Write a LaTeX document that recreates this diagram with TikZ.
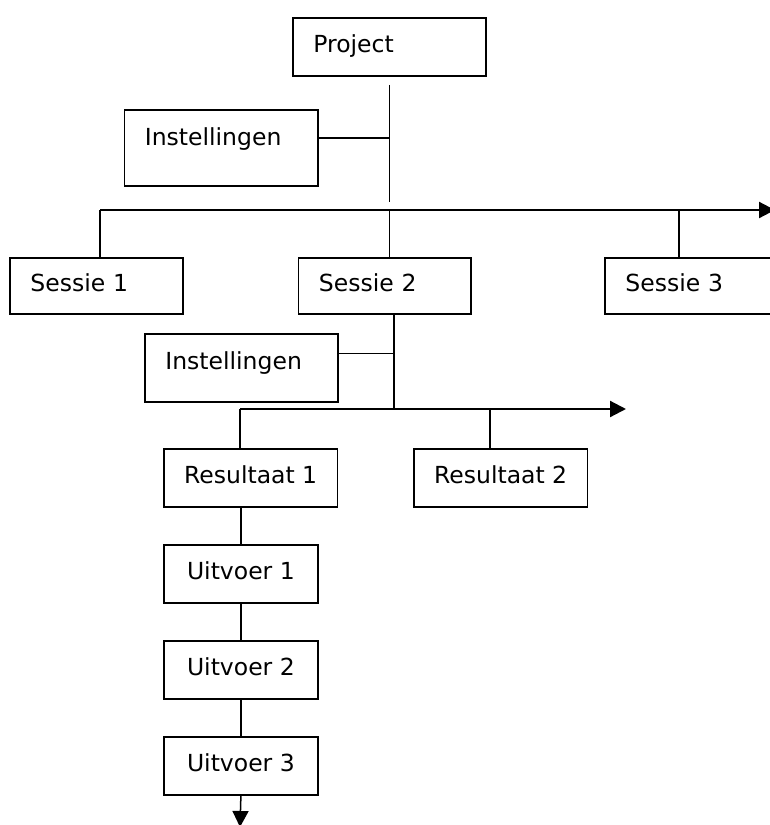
\documentclass[tikz,border=0pt]{standalone}
\usepackage{fontspec}
\setmainfont{DejaVu Sans}
\usetikzlibrary{arrows.meta}
\tikzset{
	vak/.style={draw, line width=1.8pt, anchor=north west, inner sep=0pt, text height=17.5pt, text depth=5.5pt, font=\fontsize{23.5}{28}\selectfont},
	linksvak/.style={vak, align=left, inner xsep=20.5pt},
	lijn/.style={line width=1.5pt},
	balk/.style={line width=2.2pt, -{Triangle[length=16pt,width=16pt]}},
}
\begin{document}
\begin{tikzpicture}[x=1pt,y=-1pt]
		\useasboundingbox (0,0) rectangle (769,825);

		\node[linksvak, text width=152pt, minimum height=58pt] (project) at (292,17) {Project};
		\node[linksvak, text width=152.5pt, minimum height=76pt, text depth=21.5pt] (inst1) at (123.5,109) {Instellingen};
		\node[linksvak, text width=132pt, minimum height=56pt] (sessie1) at (9,257) {Sessie 1};
		\node[linksvak, text width=131.5pt, minimum height=56pt] (sessie2) at (297.5,257) {Sessie 2};
		\node[linksvak, text width=132pt, minimum height=56pt] (sessie3) at (604,257) {Sessie 3};
		\node[linksvak, text width=152pt, minimum height=68pt, text depth=13.5pt] (inst2) at (144,333) {Instellingen};

		\node[vak, minimum width=173.5pt, minimum height=58pt] (res1) at (163,448) {Resultaat 1};
		\node[vak, minimum width=173.5pt, minimum height=58pt] (res2) at (413,448) {Resultaat 2};
		\node[vak, minimum width=154pt, minimum height=58pt] (uit1) at (163,544) {Uitvoer 1};
		\node[vak, minimum width=154pt, minimum height=58pt] (uit2) at (163,640) {Uitvoer 2};
		\node[vak, minimum width=154pt, minimum height=58pt] (uit3) at (163,736) {Uitvoer 3};

		\coordinate (b1l) at (100,210);
		\coordinate (b1r) at (775,210);
		\coordinate (b1s3) at (679,210);
		\coordinate (b2j) at (394,409);
		\coordinate (b2l) at (240,409);
		\coordinate (b2r) at (626,409);
		\coordinate (b2s2) at (490,409);
		\coordinate (einde) at (240,827);

		\draw[lijn, shorten <=8pt, shorten >=8pt] (project.south) -- (project.south |- b1l);
		\draw[lijn] ([yshift=10pt]inst1.east) -- ([yshift=10pt]inst1.east -| project.south);
		\draw[balk] (b1l) -- (b1r);
		\draw[lijn] (b1l) -- (b1l |- sessie1.north);
		\draw[lijn] (project.south |- b1l) -- (project.south |- sessie2.north);
		\draw[lijn] (b1s3) -- (b1s3 |- sessie3.north);

		\draw[lijn] (b2j |- sessie2.south) -- (b2j);
		\draw[lijn] ([yshift=14.5pt]inst2.east) -- ([yshift=14.5pt]inst2.east -| b2j);
		\draw[balk] (b2l) -- (b2r);
		\draw[lijn] (b2l) -- (b2l |- res1.north);
		\draw[lijn] (b2s2) -- (b2s2 |- res2.north);

		\draw[lijn] (uit1.north |- res1.south) -- (uit1.north);
		\draw[lijn] (uit1.south) -- (uit2.north);
		\draw[lijn] (uit2.south) -- (uit3.north);
		\draw[lijn, -{Triangle[length=16pt,width=16pt]}] (uit3.south) -- (einde);
	\end{tikzpicture}
\end{document}
